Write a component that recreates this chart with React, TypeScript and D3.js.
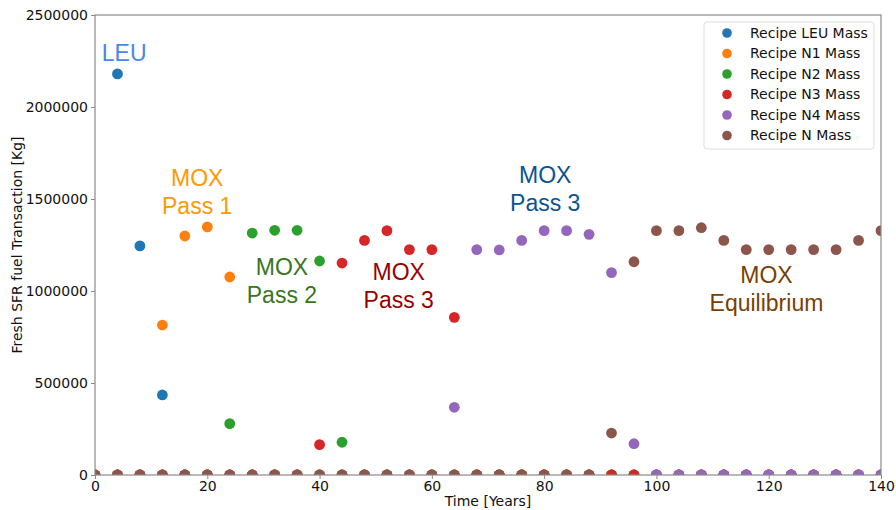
import React, { useEffect, useRef } from 'react'
import * as d3 from 'd3'

// time steps every 4 years, 0..140
const times = d3.range(0, 141, 4)

// nonzero values for each recipe, [time, mass]; every other time step is 0
const leuMass = [[4, 2180000], [8, 1245000], [12, 435000]]
const n1Mass = [[12, 815000], [16, 1299000], [20, 1348000], [24, 1076000]]
const n2Mass = [[24, 279000], [28, 1315000], [32, 1330000], [36, 1330000], [40, 1163000], [44, 178000]]
const n3Mass = [[40, 165000], [44, 1152000], [48, 1275000], [52, 1328000], [56, 1225000], [60, 1225000], [64, 857000]]
const n4Mass = [[64, 368000], [68, 1225000], [72, 1223000], [76, 1275000], [80, 1328000], [84, 1328000], [88, 1308000], [92, 1100000], [96, 170000]]
const nMass = [[92, 228000], [96, 1159000], [100, 1328000], [104, 1328000], [108, 1344000], [112, 1275000], [116, 1225000], [120, 1225000], [124, 1225000], [128, 1225000], [132, 1225000], [136, 1275000], [140, 1328000]]

const seriesNames = ['Recipe LEU Mass', 'Recipe N1 Mass', 'Recipe N2 Mass', 'Recipe N3 Mass', 'Recipe N4 Mass', 'Recipe N Mass']
const seriesColors = ['#1f77b4', '#ff7f0e', '#2ca02c', '#d62728', '#9467bd', '#8c564b']
const seriesData = [leuMass, n1Mass, n2Mass, n3Mass, n4Mass, nMass]

const xTicks = [0, 20, 40, 60, 80, 100, 120, 140]
const yTicks = [0, 500000, 1000000, 1500000, 2000000, 2500000]

// annotations: [line1, line2, time, value of first baseline, colour]
const notes: [string, string, number, number, string][] = [
  ['LEU', '', 5.2, 2250000, '#4a86e8'],
  ['MOX', 'Pass 1', 18.2, 1570000, '#ff9900'],
  ['MOX', 'Pass 2', 33.3, 1085000, '#38761d'],
  ['MOX', 'Pass 3', 54.1, 1060000, '#990000'],
  ['MOX', 'Pass 3', 80.2, 1585000, '#0b5394'],
  ['MOX', 'Equilibrium', 119.6, 1045000, '#783f04'],
]

export default function App() {
  const svgRef = useRef<SVGSVGElement>(null)

  const width = 896
  const height = 510
  const margin = { top: 15, right: 15, bottom: 35, left: 95 }
  const innerWidth = width - margin.left - margin.right
  const innerHeight = height - margin.top - margin.bottom

  useEffect(() => {
    const svg = d3.select(svgRef.current)
    svg.selectAll('*').remove()

    const xScale = d3.scaleLinear().domain([0, 140]).range([0, innerWidth])
    const yScale = d3.scaleLinear().domain([0, 2500000]).range([innerHeight, 0])

    const g = svg.append('g')
      .attr('transform', `translate(${margin.left}, ${margin.top})`)

    svg.append('defs').append('clipPath').attr('id', 'plot-clip')
      .append('rect')
      .attr('width', innerWidth)
      .attr('height', innerHeight)

    const plot = g.append('g').attr('clip-path', 'url(#plot-clip)')

    seriesData.forEach((pairs, i) => {
      const lookup = new Map(pairs.map(p => [p[0], p[1]]))
      const pts = times.map(t => ({ t, v: lookup.get(t) ?? 0 }))
      plot.append('g')
        .selectAll('circle')
        .data(pts)
        .enter()
        .append('circle')
        .attr('cx', d => xScale(d.t))
        .attr('cy', d => yScale(d.v))
        .attr('r', 5.4)
        .attr('fill', seriesColors[i])
    })

    // frame
    g.append('rect')
      .attr('width', innerWidth)
      .attr('height', innerHeight)
      .attr('fill', 'none')
      .attr('stroke', '#8a8a8a')
      .attr('stroke-width', 1.2)

    const xAxis = g.append('g')
      .attr('transform', `translate(0, ${innerHeight})`)
      .call(d3.axisBottom(xScale).tickValues(xTicks).tickSize(4).tickPadding(2))
    const yAxis = g.append('g')
      .call(d3.axisLeft(yScale).tickValues(yTicks).tickSize(4).tickPadding(3).tickFormat(d3.format('d')))

    for (const ax of [xAxis, yAxis]) {
      ax.select('.domain').remove()
      ax.selectAll('line').attr('stroke', '#8a8a8a')
      ax.selectAll('text')
        .attr('fill', '#111')
        .style('font-family', 'DejaVu Sans')
        .style('font-size', '14px')
    }

    g.append('text')
      .attr('x', innerWidth / 2)
      .attr('y', innerHeight + 31)
      .attr('text-anchor', 'middle')
      .style('font-family', 'DejaVu Sans')
      .style('font-size', '14px')
      .attr('fill', '#111')
      .text('Time [Years]')

    g.append('text')
      .attr('transform', 'rotate(-90)')
      .attr('x', -innerHeight / 2)
      .attr('y', -73)
      .attr('text-anchor', 'middle')
      .style('font-family', 'DejaVu Sans')
      .style('font-size', '14px')
      .attr('fill', '#111')
      .text('Fresh SFR fuel Transaction [Kg]')

    // annotations
    notes.forEach(([l1, l2, t, v, c]) => {
      const txt = g.append('text')
        .attr('text-anchor', 'middle')
        .style('font-family', 'Liberation Sans, Arial, sans-serif')
        .style('font-size', '23px')
        .attr('fill', c)
      txt.append('tspan').attr('x', xScale(t)).attr('y', yScale(v)).text(l1)
      if (l2) txt.append('tspan').attr('x', xScale(t)).attr('dy', 28).text(l2)
    })

    // legend
    const legend = g.append('g').attr('transform', `translate(${innerWidth - 177}, 7)`)
    legend.append('rect')
      .attr('width', 170)
      .attr('height', 127)
      .attr('rx', 3)
      .attr('fill', 'white')
      .attr('stroke', '#dddddd')
    seriesNames.forEach((name, i) => {
      legend.append('circle')
        .attr('cx', 23)
        .attr('cy', 11 + i * 20.5)
        .attr('r', 4.8)
        .attr('fill', seriesColors[i])
      legend.append('text')
        .attr('x', 46)
        .attr('y', 11 + i * 20.5)
        .attr('dy', '0.35em')
        .style('font-family', 'DejaVu Sans')
        .style('font-size', '14px')
        .attr('fill', '#111')
        .text(name)
    })
  })

  return (
    <svg ref={svgRef} width={width} height={height}
      style={{ position: 'absolute', left: 0, top: 0 }}></svg>
  )
}
